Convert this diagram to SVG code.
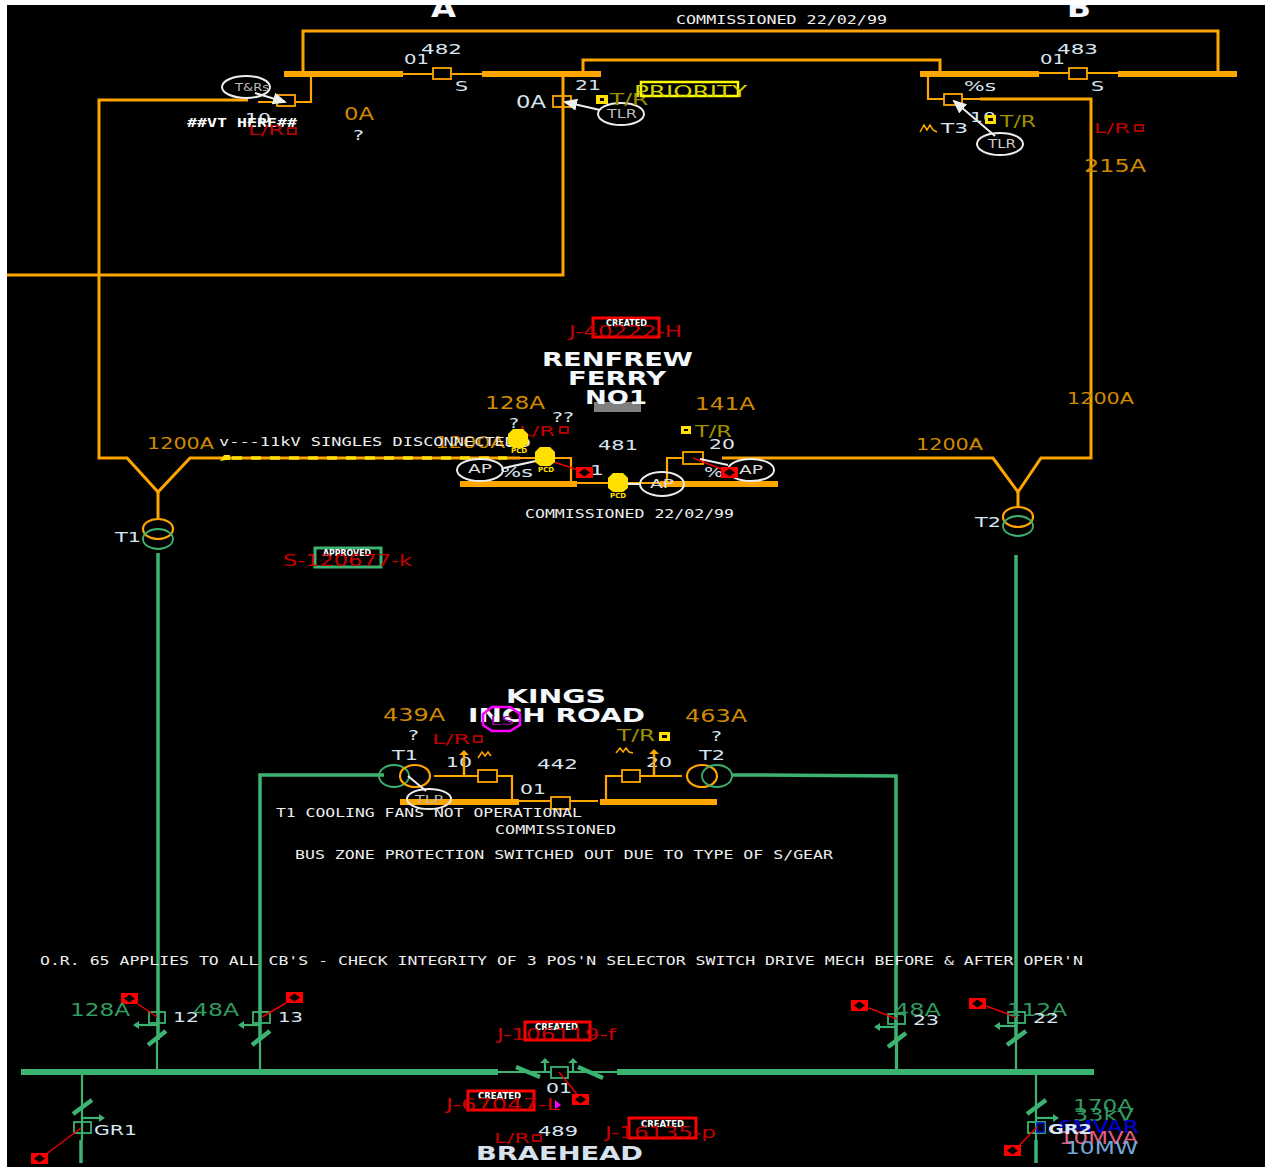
<svg xmlns="http://www.w3.org/2000/svg" width="1265" height="1167" viewBox="0 0 1265 1167">
<style>
text{font-family:"DejaVu Sans","Liberation Sans",sans-serif;white-space:pre}
.o{fill:none;stroke:#ffa500;stroke-width:3}
.ot{fill:none;stroke:#ffa500;stroke-width:2.200}
.ob{fill:none;stroke:#ffa500;stroke-width:6}
.g{fill:none;stroke:#3cb371;stroke-width:3.500}
.gt{fill:none;stroke:#3cb371;stroke-width:2.200}
.gb{fill:none;stroke:#3cb371;stroke-width:6}
.r{fill:none;stroke:#e60000;stroke-width:1.500}
.w{fill:none;stroke:#eee;stroke-width:2}
.cb{fill:none;stroke:#ffa500;stroke-width:1.800}
.cg{fill:none;stroke:#3cb371;stroke-width:1.800}
.sl{fill:none;stroke:#3cb371;stroke-width:4.500}
.rb{fill:#f00}
.d{fill:#000}
.m{font-family:"DejaVu Sans Mono","Liberation Mono",monospace;font-size:12px;fill:#eee}
.l{font-size:14px;fill:#d8e6f2}
.a{font-size:17px;fill:#d08a00}
.ga{font-size:18px;fill:#329a60}
.rd{font-size:14px;fill:#c00000}
.tr{font-size:15px;fill:#a09000}
.t{font-size:20px;font-weight:bold;fill:#f4f8fc}
.job{font-size:15px;fill:#c80000}
.cr{font-size:8px;font-weight:bold;fill:#fff}
.box{fill:none;stroke:#f00;stroke-width:3}
.yb{fill:#ffe000}
.ys{fill:#ffe000}
.pcd{font-size:7px;font-weight:bold;fill:#ffe000}
</style>
<defs>
<marker id="wa" markerWidth="8" markerHeight="8" refX="6" refY="3" orient="auto"><path d="M0 0L7 3L0 6z" fill="#eee"/></marker>
<g id="rbox"><rect class="rb" x="0" y="0" width="17" height="11"/><path class="d" d="M8.500 1.500L14 5.500L8.500 9.500L3 5.500z"/></g>
<g id="blob"><path d="M-5 -10H5L10 -5V5L5 9H-5L-10 5V-5Z" class="yb"/></g>
</defs>
<rect width="1265" height="1167" fill="#000"/>

<g id="connectors">
<path class="o" d="M303 74V31H1218V74"/>
<path class="o" d="M583 74V60H940V74"/>
<path class="ot" d="M311 74V102H295M277 102H258"/>
<path class="o" d="M248 100H99V458H127L158 492L190 458H520"/>
<path class="ot" d="M520 458H571V484"/>
<path class="o" d="M563 74V275H7"/>
<path class="ot" d="M403 74H433M451 74H482"/>
<path class="ot" d="M1039 73H1069M1087 73H1118"/>
<path class="ot" d="M928 74V99H944M962 99H980"/>
<path class="o" d="M980 99H1091V458H1041L1018 492L993 458H722"/>
<path class="ot" d="M683 458H667V484"/>
<path class="ot" d="M577 483H660"/>
<path class="o" d="M158 492V518M1018 492V507"/>
<path class="g" d="M158 553V1040M1016 555V1040"/>
<path class="gt" d="M157 1040V1072M897 1040V1072M1016 1040V1072"/>
<path class="g" d="M384 775H260V1040"/>
<path class="gt" d="M260 1040V1072"/>
<path class="g" d="M732 775H760L896 776V1040"/>
<path class="gt" d="M896 1040V1072"/>
<path class="ot" d="M434 776H478M497 776H512V800"/>
<path class="ot" d="M606 800V776H622M640 776H682"/>
<path class="ot" d="M519 801H551M570 801H598"/>
<path class="gt" d="M498 1072H551M568 1072H617"/>
<path class="gt" d="M82 1072V1140M1036 1072V1140"/>
<path class="g" d="M81 1140V1163M1036 1140V1163"/>
<path d="M232 458H507" stroke="#ffe000" stroke-width="3.500" stroke-dasharray="10 9" fill="none"/>
<path d="M220 461L224 455H230V460H226Z" fill="#ffe000"/>
</g>

<g id="bus-a"><path class="ob" d="M284 74H403M482 74H601"/></g>
<g id="bus-b"><path class="ob" d="M920 74H1039M1118 74H1237"/></g>
<g id="bus-renfrew"><path class="ob" d="M460 484H577M660 484H778"/></g>
<g id="bus-kings"><path class="ob" d="M400 802H519M600 802H717"/></g>
<g id="bus-main"><path class="gb" d="M21 1072H498M617 1072H1094"/></g>

<g id="station-a-title"><text class="t" x="431" y="17" style="font-size:26px" textLength="25" lengthAdjust="spacingAndGlyphs">A</text></g>
<g id="station-b-title"><text class="t" x="1067" y="17" style="font-size:26px" textLength="24" lengthAdjust="spacingAndGlyphs">B</text></g>
<g id="commissioned-top"><text class="m" x="676" y="24" textLength="211" lengthAdjust="spacingAndGlyphs">COMMISSIONED 22/02/99</text></g>

<g id="cb-482">
<rect class="cb" x="433" y="68" width="18" height="11"/>
<text class="l" x="421" y="54" textLength="41" lengthAdjust="spacingAndGlyphs">482</text>
<text class="l" x="404" y="64" textLength="25" lengthAdjust="spacingAndGlyphs">01</text>
<text class="l" x="455" y="91" textLength="13" lengthAdjust="spacingAndGlyphs">S</text>
</g>
<g id="cb-483">
<rect class="cb" x="1069" y="68" width="18" height="11"/>
<text class="l" x="1057" y="54" textLength="41" lengthAdjust="spacingAndGlyphs">483</text>
<text class="l" x="1040" y="64" textLength="25" lengthAdjust="spacingAndGlyphs">01</text>
<text class="l" x="1091" y="91" textLength="13" lengthAdjust="spacingAndGlyphs">S</text>
</g>
<g id="cb-10-a">
<rect class="cb" x="277" y="95" width="18" height="11"/>
<ellipse class="w" cx="246" cy="87" rx="24" ry="11"/>
<path class="w" d="M255 93L285 102" marker-end="url(#wa)"/>
<text x="235" y="91" style="font-size:11px;fill:#bbb" textLength="34" lengthAdjust="spacingAndGlyphs">T&amp;Rs</text>
<text class="l" x="245" y="123" textLength="26" lengthAdjust="spacingAndGlyphs">10</text>
<text class="m" x="187" y="127" textLength="110" lengthAdjust="spacingAndGlyphs" style="font-weight:bold;fill:#fff">##VT HERE##</text>
<text class="rd" x="248" y="135" textLength="36" lengthAdjust="spacingAndGlyphs">L/R</text>
<rect x="288" y="128" width="8" height="6" fill="none" stroke="#d00000" stroke-width="1.600"/>
<text class="a" x="344" y="120" textLength="30" lengthAdjust="spacingAndGlyphs">0A</text>
<text class="l" x="353" y="140" textLength="11" lengthAdjust="spacingAndGlyphs">?</text>
</g>
<g id="cb-21">
<rect class="cb" x="553" y="96" width="18" height="11"/>
<ellipse class="w" cx="621" cy="114" rx="23" ry="11"/>
<path class="w" d="M600 110L565 102" marker-end="url(#wa)"/>
<text x="607" y="118" style="font-size:12px;fill:#bbb" textLength="30" lengthAdjust="spacingAndGlyphs">TLR</text>
<text class="l" x="575" y="90" textLength="26" lengthAdjust="spacingAndGlyphs">21</text>
<text class="l" x="516" y="108" style="font-size:17px" textLength="30" lengthAdjust="spacingAndGlyphs">0A</text>
<rect class="ys" x="596" y="95" width="12" height="9"/><rect x="600" y="98" width="4" height="3" fill="#000"/>
<text class="tr" x="610" y="105" textLength="38" lengthAdjust="spacingAndGlyphs">T/R</text>
</g>
<g id="priority">
<rect x="641" y="82" width="97" height="14" fill="none" stroke="#ffff00" stroke-width="2.500"/>
<text x="634" y="97" style="font-size:16px;fill:#d8d800" textLength="113" lengthAdjust="spacingAndGlyphs">PRIORITY</text>
</g>
<g id="cb-10-b">
<rect class="cb" x="944" y="94" width="18" height="11"/>
<ellipse class="w" cx="1000" cy="144" rx="23" ry="11"/>
<path class="w" d="M995 136L954 101" marker-end="url(#wa)"/>
<text x="988" y="148" style="font-size:12px;fill:#ccc" textLength="28" lengthAdjust="spacingAndGlyphs">TLR</text>
<text class="l" x="964" y="91" textLength="32" lengthAdjust="spacingAndGlyphs">%s</text>
<text class="l" x="970" y="122" textLength="26" lengthAdjust="spacingAndGlyphs">10</text>
<rect class="ys" x="985" y="115" width="11" height="9"/><rect x="988" y="118" width="5" height="3" fill="#000"/>
<text class="tr" x="1000" y="127" textLength="36" lengthAdjust="spacingAndGlyphs">T/R</text>
<path d="M920 132L924 125L927 130L930 125L933 130L937 132" fill="none" stroke="#ffa500" stroke-width="1.500"/>
<text class="l" x="941" y="133" textLength="27" lengthAdjust="spacingAndGlyphs">T3</text>
<text class="rd" x="1094" y="133" textLength="36" lengthAdjust="spacingAndGlyphs">L/R</text>
<rect x="1135" y="125" width="8" height="6" fill="none" stroke="#d00000" stroke-width="1.600"/>
<text class="a" x="1084" y="172" textLength="62" lengthAdjust="spacingAndGlyphs">215A</text>
</g>

<g id="job-40222">
<rect class="box" x="593" y="318" width="66" height="19"/>
<text class="cr" x="606" y="326" textLength="41" lengthAdjust="spacingAndGlyphs">CREATED</text>
<text class="job" x="569" y="337" textLength="113" lengthAdjust="spacingAndGlyphs">J-40222-H</text>
</g>
<g id="renfrew-title">
<text class="t" x="542" y="366" textLength="151" lengthAdjust="spacingAndGlyphs">RENFREW</text>
<text class="t" x="568" y="385" textLength="98" lengthAdjust="spacingAndGlyphs">FERRY</text>
<rect x="594" y="402" width="47" height="10" fill="#7f7f7f"/>
<text class="t" x="585" y="404" textLength="62" lengthAdjust="spacingAndGlyphs">NO1</text>
</g>
<g id="renfrew-labels">
<text class="a" x="485" y="409" textLength="60" lengthAdjust="spacingAndGlyphs">128A</text>
<text class="a" x="695" y="410" textLength="60" lengthAdjust="spacingAndGlyphs">141A</text>
<text class="l" x="552" y="422" textLength="22" lengthAdjust="spacingAndGlyphs">??</text>
<text class="l" x="509" y="428" textLength="10" lengthAdjust="spacingAndGlyphs">?</text>
<text class="rd" x="519" y="436" textLength="36" lengthAdjust="spacingAndGlyphs">L/R</text>
<rect x="560" y="427" width="8" height="6" fill="none" stroke="#d00000" stroke-width="1.600"/>
<rect class="ys" x="681" y="426" width="10" height="8"/><rect x="684" y="429" width="4" height="2" fill="#000"/>
<text class="tr" x="695" y="437" textLength="37" lengthAdjust="spacingAndGlyphs">T/R</text>
<text class="l" x="598" y="450" textLength="40" lengthAdjust="spacingAndGlyphs">481</text>
<text class="l" x="709" y="449" textLength="26" lengthAdjust="spacingAndGlyphs">20</text>
<text class="a" x="147" y="449" style="font-size:15px" textLength="67" lengthAdjust="spacingAndGlyphs">1200A</text>
<text class="a" x="916" y="450" style="font-size:15px" textLength="67" lengthAdjust="spacingAndGlyphs">1200A</text>
<text class="a" x="1067" y="404" style="font-size:15px" textLength="67" lengthAdjust="spacingAndGlyphs">1200A</text>
<text class="a" x="435" y="448" style="font-size:15px" textLength="70" lengthAdjust="spacingAndGlyphs">1200A</text>
<text class="l" x="505" y="447" style="font-size:13px" textLength="26" lengthAdjust="spacingAndGlyphs">10</text>
<text class="m" x="219" y="446" textLength="296" lengthAdjust="spacingAndGlyphs">v---11kV SINGLES DISCONNECTED</text>
<text class="l" x="500" y="477" textLength="33" lengthAdjust="spacingAndGlyphs">%s</text>
<text class="l" x="704" y="477" textLength="30" lengthAdjust="spacingAndGlyphs">%s</text>
<text class="l" x="590" y="475" textLength="14" lengthAdjust="spacingAndGlyphs">1</text>
<text class="m" x="525" y="518" textLength="209" lengthAdjust="spacingAndGlyphs">COMMISSIONED 22/02/99</text>
</g>
<g id="cb-481-ap">
<rect class="cb" x="683" y="452" width="20" height="12"/>
<path class="w" d="M504 468L545 459"/>
<ellipse class="w" cx="480" cy="470" rx="23" ry="11"/>
<text x="468" y="473" style="font-size:12px;fill:#ddd" textLength="24" lengthAdjust="spacingAndGlyphs">AP</text>
<path class="w" d="M617 484H640"/>
<ellipse class="w" cx="662" cy="484" rx="22" ry="12"/>
<text x="650" y="488" style="font-size:12px;fill:#ddd" textLength="24" lengthAdjust="spacingAndGlyphs">AP</text>
<path class="w" d="M700 459L728 465"/>
<ellipse class="w" cx="751" cy="470" rx="23" ry="11"/>
<text x="739" y="474" style="font-size:12px;fill:#ddd" textLength="24" lengthAdjust="spacingAndGlyphs">AP</text>
<path class="r" d="M545 459L578 470"/>
<use href="#rbox" x="576" y="467"/>
<path class="r" d="M693 458L724 470"/>
<use href="#rbox" x="721" y="467"/>
<use href="#blob" x="518" y="439"/><text class="pcd" x="511" y="453">PCD</text>
<use href="#blob" x="545" y="457"/><text class="pcd" x="538" y="472">PCD</text>
<use href="#blob" x="618" y="483"/><text class="pcd" x="610" y="498">PCD</text>
</g>
<g id="t1-renfrew">
<ellipse class="ot" cx="158" cy="529" rx="15" ry="10"/>
<ellipse class="cg" cx="158" cy="539" rx="15" ry="10"/>
<text class="l" x="115" y="542" textLength="26" lengthAdjust="spacingAndGlyphs">T1</text>
</g>
<g id="t2-renfrew">
<ellipse class="ot" cx="1018" cy="517" rx="15" ry="10"/>
<ellipse class="cg" cx="1018" cy="526" rx="15" ry="10"/>
<text class="l" x="975" y="527" textLength="26" lengthAdjust="spacingAndGlyphs">T2</text>
</g>
<g id="job-120677">
<rect x="315" y="548" width="66" height="19" fill="none" stroke="#3cb371" stroke-width="3"/>
<text class="cr" x="323" y="556" textLength="48" lengthAdjust="spacingAndGlyphs">APPROVED</text>
<text class="job" x="283" y="566" textLength="129" lengthAdjust="spacingAndGlyphs">S-120677-k</text>
</g>

<g id="kings-title">
<text class="t" x="506" y="703" textLength="100" lengthAdjust="spacingAndGlyphs">KINGS</text>
<text class="t" x="468" y="722" textLength="177" lengthAdjust="spacingAndGlyphs">INCH ROAD</text>
<path d="M492 707H510L520 714V725L510 731H492L483 725V714Z" fill="none" stroke="#f0f" stroke-width="2.500"/>
<text x="490" y="725" style="font-size:13px;fill:#a000a0" textLength="24" lengthAdjust="spacingAndGlyphs">LS</text>
</g>
<g id="kings-t1">
<text class="a" x="383" y="721" textLength="62" lengthAdjust="spacingAndGlyphs">439A</text>
<text class="l" x="408" y="740" textLength="11" lengthAdjust="spacingAndGlyphs">?</text>
<text class="l" x="392" y="760" textLength="26" lengthAdjust="spacingAndGlyphs">T1</text>
<ellipse class="cg" cx="394" cy="776" rx="15" ry="11"/>
<ellipse class="ot" cx="415" cy="776" rx="15" ry="11"/>
<ellipse class="w" cx="429" cy="799" rx="22" ry="10"/>
<text x="415" y="803" style="font-size:11px;fill:#bbb" textLength="28" lengthAdjust="spacingAndGlyphs">TLP</text>
<path class="w" d="M426 791L408 776"/>
</g>
<g id="kings-cb-10">
<rect class="cb" x="478" y="770" width="19" height="12"/>
<text class="rd" x="432" y="744" textLength="38" lengthAdjust="spacingAndGlyphs">L/R</text>
<rect x="474" y="736" width="8" height="6" fill="none" stroke="#d00000" stroke-width="1.600"/>
<text class="l" x="446" y="767" textLength="26" lengthAdjust="spacingAndGlyphs">10</text>
<path d="M464 776V754" stroke="#ffa500" stroke-width="2.500" fill="none"/><path d="M459 755L464 750L469 755z" fill="#ffa500"/>
<path d="M478 758L482 752L485 756L488 752L491 756" fill="none" stroke="#ffa500" stroke-width="1.500"/>
</g>
<g id="kings-cb-442">
<rect class="cb" x="551" y="797" width="19" height="12"/>
<text class="l" x="537" y="769" textLength="41" lengthAdjust="spacingAndGlyphs">442</text>
<text class="l" x="520" y="794" textLength="26" lengthAdjust="spacingAndGlyphs">01</text>
</g>
<g id="kings-cb-20">
<rect class="cb" x="622" y="770" width="18" height="12"/>
<text class="tr" x="617" y="741" textLength="38" lengthAdjust="spacingAndGlyphs">T/R</text>
<rect class="ys" x="659" y="732" width="11" height="9"/><rect x="662" y="735" width="5" height="3" fill="#000"/>
<text class="l" x="646" y="767" textLength="26" lengthAdjust="spacingAndGlyphs">20</text>
<path d="M654 776V754" stroke="#ffa500" stroke-width="2.500" fill="none"/><path d="M649 754L654 749L659 754z" fill="#ffa500"/>
<path d="M616 753L620 748L623 752L626 748L629 752L633 753" fill="none" stroke="#ffa500" stroke-width="1.500"/>
</g>
<g id="kings-t2">
<text class="a" x="685" y="722" textLength="62" lengthAdjust="spacingAndGlyphs">463A</text>
<text class="l" x="711" y="741" textLength="11" lengthAdjust="spacingAndGlyphs">?</text>
<text class="l" x="699" y="760" textLength="26" lengthAdjust="spacingAndGlyphs">T2</text>
<ellipse class="ot" cx="702" cy="776" rx="15" ry="11"/>
<ellipse class="cg" cx="717" cy="776" rx="15" ry="11"/>
</g>
<g id="notes">
<text class="m" x="276" y="817" textLength="306" lengthAdjust="spacingAndGlyphs">T1 COOLING FANS NOT OPERATIONAL</text>
<text class="m" x="495" y="834" textLength="121" lengthAdjust="spacingAndGlyphs">COMMISSIONED</text>
<text class="m" x="295" y="859" textLength="538" lengthAdjust="spacingAndGlyphs">BUS ZONE PROTECTION SWITCHED OUT DUE TO TYPE OF S/GEAR</text>
<text class="m" x="40" y="965" textLength="1043" lengthAdjust="spacingAndGlyphs">O.R. 65 APPLIES TO ALL CB'S - CHECK INTEGRITY OF 3 POS'N SELECTOR SWITCH DRIVE MECH BEFORE &amp; AFTER OPER'N</text>
</g>

<g id="bay-12">
<path class="sl" d="M148 1045L166 1031"/>
<path class="gt" d="M157 1025H139"/><path d="M139 1021L133 1025L139 1029z" fill="#3cb371"/>
<rect class="cg" x="149" y="1012" width="16" height="11"/>
<path class="r" d="M138 1004L157 1017"/>
<use href="#rbox" x="121" y="993"/>
<text class="ga" x="70" y="1016" textLength="60" lengthAdjust="spacingAndGlyphs">128A</text>
<text class="l" x="173" y="1022" textLength="26" lengthAdjust="spacingAndGlyphs">12</text>
</g>
<g id="bay-13">
<path class="sl" d="M252 1045L270 1031"/>
<path class="gt" d="M260 1025H244"/><path d="M244 1021L238 1025L244 1029z" fill="#3cb371"/>
<rect class="cg" x="253" y="1012" width="17" height="11"/>
<path class="r" d="M286 1003L262 1017"/>
<use href="#rbox" x="286" y="992"/>
<text class="ga" x="193" y="1016" textLength="46" lengthAdjust="spacingAndGlyphs">48A</text>
<text class="l" x="278" y="1022" textLength="25" lengthAdjust="spacingAndGlyphs">13</text>
</g>
<g id="bay-23">
<path class="sl" d="M888 1047L906 1033"/>
<path class="gt" d="M897 1027H880"/><path d="M880 1023L874 1027L880 1031z" fill="#3cb371"/>
<rect class="cg" x="888" y="1014" width="17" height="10"/>
<path class="r" d="M869 1008L897 1019"/>
<use href="#rbox" x="851" y="1000"/>
<text class="ga" x="894" y="1016" textLength="47" lengthAdjust="spacingAndGlyphs">48A</text>
<text class="l" x="913" y="1025" textLength="26" lengthAdjust="spacingAndGlyphs">23</text>
</g>
<g id="bay-22">
<path class="sl" d="M1007 1045L1026 1031"/>
<path class="gt" d="M1016 1026H1000"/><path d="M1000 1022L994 1026L1000 1030z" fill="#3cb371"/>
<rect class="cg" x="1008" y="1012" width="17" height="11"/>
<path class="r" d="M986 1006L1016 1017"/>
<use href="#rbox" x="969" y="998"/>
<text class="ga" x="1007" y="1016" textLength="60" lengthAdjust="spacingAndGlyphs">112A</text>
<text class="l" x="1033" y="1023" textLength="26" lengthAdjust="spacingAndGlyphs">22</text>
</g>
<g id="bay-gr1">
<path class="sl" d="M73 1114L92 1100"/>
<path class="gt" d="M82 1118H99"/><path d="M99 1114L105 1118L99 1122z" fill="#3cb371"/>
<rect class="cg" x="74" y="1122" width="17" height="11"/>
<path class="r" d="M81 1128L45 1155"/>
<use href="#rbox" x="31" y="1153"/>
<text class="l" x="94" y="1135" textLength="43" lengthAdjust="spacingAndGlyphs">GR1</text>
</g>
<g id="bay-gr2">
<path class="sl" d="M1027 1114L1046 1100"/>
<path class="gt" d="M1036 1118H1053"/><path d="M1053 1114L1059 1118L1053 1122z" fill="#3cb371"/>
<rect class="cg" x="1028" y="1122" width="17" height="11"/>
<rect x="1037" y="1123" width="7" height="9" fill="none" stroke="#0000e0" stroke-width="1.500"/>
<path class="r" d="M1037 1127L1015 1150"/>
<use href="#rbox" x="1004" y="1145"/>
<text class="ga" x="1073" y="1112" textLength="60" lengthAdjust="spacingAndGlyphs">170A</text>
<text class="ga" x="1073" y="1121" textLength="61" lengthAdjust="spacingAndGlyphs">33kV</text>
<text x="1058" y="1133" style="font-size:18px;fill:#0000e0" textLength="81" lengthAdjust="spacingAndGlyphs">6MVAR</text>
<text x="1059" y="1144" style="font-size:18px;fill:#e06080" textLength="79" lengthAdjust="spacingAndGlyphs">10MVA</text>
<text x="1065" y="1154" style="font-size:18px;fill:#70a8d8" textLength="73" lengthAdjust="spacingAndGlyphs">10MW</text>
<text x="1048" y="1134" style="font-size:14px;font-weight:bold;fill:#d8e6f2" textLength="44" lengthAdjust="spacingAndGlyphs">GR2</text>
</g>
<g id="cb-489">
<path class="sl" d="M516 1067L540 1077M578 1067L603 1078"/>
<path class="gt" d="M545 1072V1062M573 1072V1062"/>
<path d="M540 1063L545 1058L550 1063zM568 1063L573 1058L578 1063z" fill="#3cb371"/>
<rect class="cg" x="551" y="1067" width="17" height="11"/>
<path class="r" d="M559 1072L580 1098"/>
<use href="#rbox" x="572" y="1094"/>
<text class="l" x="546" y="1093" textLength="26" lengthAdjust="spacingAndGlyphs">01</text>
<text class="l" x="538" y="1136" textLength="40" lengthAdjust="spacingAndGlyphs">489</text>
<text class="rd" x="494" y="1143" textLength="36" lengthAdjust="spacingAndGlyphs">L/R</text>
<rect x="533" y="1135" width="8" height="6" fill="none" stroke="#d00000" stroke-width="1.600"/>
<path d="M555 1100L561 1105L555 1109z" fill="#f0f"/>
</g>
<g id="job-106119">
<rect class="box" x="525" y="1022" width="65" height="18"/>
<text class="cr" x="535" y="1030" textLength="43" lengthAdjust="spacingAndGlyphs">CREATED</text>
<text class="job" x="497" y="1040" textLength="119" lengthAdjust="spacingAndGlyphs">J-106119-f</text>
</g>
<g id="job-67047">
<rect class="box" x="468" y="1091" width="66" height="19"/>
<text class="cr" x="478" y="1099" textLength="43" lengthAdjust="spacingAndGlyphs">CREATED</text>
<text class="job" x="446" y="1110" textLength="114" lengthAdjust="spacingAndGlyphs">J-67047-L</text>
</g>
<g id="job-16135">
<rect class="box" x="629" y="1118" width="67" height="20"/>
<text class="cr" x="641" y="1127" textLength="43" lengthAdjust="spacingAndGlyphs">CREATED</text>
<text class="job" x="605" y="1138" textLength="111" lengthAdjust="spacingAndGlyphs">J-16135-p</text>
</g>
<g id="braehead-title">
<text class="t" x="476" y="1160" style="fill:#d8e2ec" textLength="167" lengthAdjust="spacingAndGlyphs">BRAEHEAD</text>
</g>

<rect id="frame-top" x="0" y="0" width="1265" height="5" fill="#fff"/>
<rect id="frame-left" x="0" y="0" width="7" height="1167" fill="#fff"/>
</svg>
